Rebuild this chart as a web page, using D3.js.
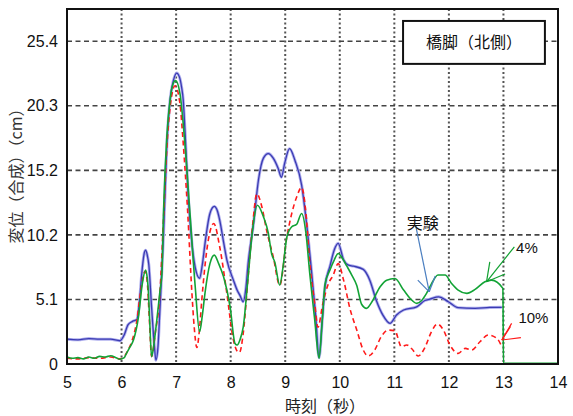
<!DOCTYPE html>
<html><head><meta charset="utf-8">
<script src="https://cdn.jsdelivr.net/npm/d3@7"></script>
<style>
html,body{margin:0;padding:0;background:#fff;}
svg{display:block;}
</style></head>
<body>
<svg id="chart" width="573" height="416"></svg>
<script>
// ---- data ----
const xTicks = [5,6,7,8,9,10,11,12,13,14];
const yTicks = [0,5.08,10.16,15.24,20.32,25.4];
const yTickLabels = ["0","5.1","10.2","15.2","20.3","25.4"];
const xTitle = "時刻（秒）";
const yTitle = "変位（合成）（cm）";
const boxTitle = "橋脚（北側）";

// 実験 (experiment) [time s, displacement cm]
const expData = [[5.0,1.95],[5.2,1.9],[5.4,2.0],[5.6,1.95],[5.8,1.95],[5.97,1.83],[6.05,2.3],[6.12,3.1],[6.2,3.35],[6.28,3.5],[6.33,5.0],[6.37,7.1],[6.42,8.8],[6.44,8.96],[6.47,8.6],[6.5,7.8],[6.55,4.5],[6.6,1.5],[6.63,0.3],[6.67,1.5],[6.70,4.0],[6.74,7.5],[6.77,10.3],[6.83,17.2],[6.89,20.8],[6.95,22.3],[7.01,22.9],[7.06,22.6],[7.10,21.8],[7.13,20.8],[7.16,18.6],[7.19,16.0],[7.22,13.4],[7.26,11.0],[7.29,9.5],[7.35,7.6],[7.43,6.75],[7.48,7.8],[7.53,9.5],[7.62,11.85],[7.70,12.4],[7.76,12.0],[7.80,11.3],[7.87,9.6],[7.93,8.2],[8.05,6.6],[8.12,5.8],[8.17,5.4],[8.23,4.9],[8.28,6.0],[8.32,7.9],[8.42,11.1],[8.51,14.5],[8.60,16.2],[8.69,16.56],[8.78,16.2],[8.87,15.4],[8.93,14.7],[8.99,15.8],[9.08,16.95],[9.18,16.0],[9.30,14.1],[9.39,11.1],[9.48,7.4],[9.56,3.7],[9.62,0.5],[9.68,3.5],[9.73,6.1],[9.82,7.7],[9.90,9.0],[9.97,9.5],[10.07,8.2],[10.15,7.8],[10.25,7.7],[10.43,7.45],[10.55,6.6],[10.67,5.0],[10.79,3.85],[10.92,3.2],[11.04,3.85],[11.17,4.25],[11.41,4.5],[11.56,5.0],[11.65,5.1],[11.81,5.29],[11.99,4.9],[12.17,4.43],[12.48,4.38],[12.75,4.45],[12.97,4.46]];

// 4% model
const g4Data = [[5.0,0.55],[5.1,0.45],[5.2,0.5],[5.3,0.4],[5.4,0.55],[5.5,0.45],[5.6,0.6],[5.7,0.55],[5.8,0.65],[5.9,0.5],[5.97,0.37],[6.05,0.5],[6.09,0.84],[6.15,1.3],[6.22,1.9],[6.31,3.7],[6.38,6.3],[6.44,7.39],[6.47,6.8],[6.49,5.8],[6.52,3.0],[6.55,0.57],[6.60,1.8],[6.64,3.2],[6.70,5.6],[6.74,7.1],[6.77,12.1],[6.83,17.9],[6.89,20.8],[6.94,22.0],[6.99,22.3],[7.07,21.3],[7.16,17.4],[7.25,12.1],[7.35,6.1],[7.43,2.54],[7.48,3.8],[7.53,5.6],[7.62,7.9],[7.70,8.57],[7.78,7.9],[7.87,6.86],[7.99,4.5],[8.08,1.62],[8.12,1.5],[8.17,1.9],[8.23,2.9],[8.32,6.86],[8.40,10.5],[8.49,12.5],[8.60,11.6],[8.69,10.3],[8.75,8.7],[8.81,8.0],[8.90,6.2],[8.96,7.65],[9.03,10.0],[9.12,10.8],[9.21,11.0],[9.30,11.85],[9.38,10.3],[9.45,7.1],[9.54,3.5],[9.62,0.45],[9.68,3.5],[9.73,6.3],[9.82,7.4],[9.90,8.2],[9.97,8.7],[10.05,8.3],[10.13,7.7],[10.22,7.0],[10.31,6.2],[10.40,4.7],[10.49,4.38],[10.59,4.9],[10.74,6.08],[10.86,6.6],[11.01,6.73],[11.17,5.82],[11.29,5.16],[11.41,4.77],[11.50,5.0],[11.59,5.56],[11.68,6.3],[11.80,7.0],[11.93,7.0],[12.05,6.34],[12.17,5.82],[12.33,5.56],[12.48,5.87],[12.66,6.47],[12.78,6.6],[12.99,5.95],[13.0,0.05],[14.0,0.05]];

// 10% model
const r10Data = [[5.0,0.45],[5.2,0.4],[5.4,0.5],[5.6,0.45],[5.8,0.55],[5.97,0.4],[6.05,0.6],[6.12,1.1],[6.19,1.8],[6.28,3.4],[6.36,6.0],[6.43,7.3],[6.47,6.5],[6.51,3.5],[6.55,0.6],[6.62,2.5],[6.70,5.4],[6.77,11.5],[6.83,17.0],[6.89,20.2],[6.98,21.9],[7.07,20.5],[7.13,17.4],[7.21,12.1],[7.29,5.56],[7.33,3.0],[7.38,1.3],[7.43,2.8],[7.47,5.0],[7.59,9.75],[7.69,11.06],[7.80,9.2],[7.93,5.56],[8.05,1.9],[8.12,1.0],[8.16,0.9],[8.23,2.4],[8.32,6.86],[8.40,10.8],[8.48,13.4],[8.57,12.4],[8.66,10.5],[8.78,8.44],[8.90,6.2],[9.03,10.0],[9.12,11.85],[9.21,13.15],[9.30,13.9],[9.38,11.85],[9.45,7.9],[9.54,4.77],[9.60,2.9],[9.69,4.77],[9.79,6.3],[9.88,7.0],[9.97,7.9],[10.07,6.6],[10.19,4.3],[10.31,2.7],[10.43,1.1],[10.52,0.63],[10.64,1.1],[10.76,2.15],[10.89,2.67],[11.01,2.62],[11.13,1.36],[11.23,1.5],[11.32,1.2],[11.44,0.63],[11.56,1.3],[11.68,2.54],[11.79,3.14],[11.90,2.67],[12.02,1.49],[12.17,0.84],[12.30,1.23],[12.42,1.1],[12.57,1.75],[12.72,2.28],[12.88,2.02],[12.97,1.36]];

// annotation labels: text, anchor [t, v]
const labelTexts = ["実験","4%","10%"];
const labelPos = [[11.52,11.1],[13.43,9.15],[13.55,3.65]];
// arrows: tail, tip, arm ends (data coords)
const arrowColors = ["#4a7ec0","#10a030","#ff1a1a"];
const arrowTail = [[11.39,10.93],[13.20,9.22],[13.15,3.2]];
const arrowTip  = [[11.64,5.68],[12.69,6.47],[12.97,1.89]];
const arrowArms = [[[11.43,6.6],[11.75,6.92]],[[12.75,8.04],[13.03,7.08]],[[13.32,2.07],[13.13,2.95]]];
// title box corners (data coords)
const boxCorners = [[11.16,27.0],[13.76,23.62]];

// ---- drawing ----
const svg = d3.select("#chart");
const m = {l:67, t:9, r:558, b:364};
const x = d3.scaleLinear().domain([5,14]).range([m.l, m.r]);
const y = d3.scaleLinear().domain([0,27.94]).range([m.b, m.t]);

const jp = "'Noto Sans CJK JP','Noto Sans',sans-serif";
const num = "'Liberation Sans',Arial,sans-serif";

// grid
svg.append("g").selectAll("line").data(xTicks.filter(d=>d>5&&d<14)).join("line")
  .attr("x1",d=>x(d)).attr("x2",d=>x(d)).attr("y1",m.t).attr("y2",m.b)
  .attr("stroke","#555").attr("stroke-width",2).attr("stroke-dasharray","2,2.5");
svg.append("g").selectAll("line").data(yTicks.filter(d=>d>0)).join("line")
  .attr("x1",m.l).attr("x2",m.r).attr("y1",d=>y(d)).attr("y2",d=>y(d))
  .attr("stroke","#444").attr("stroke-width",1.6).attr("stroke-dasharray","5,3.5");

// axes (text labels)
const xAxis = d3.axisBottom(x).tickValues(xTicks).tickSize(0).tickPadding(13).tickFormat(d3.format("d"));
const gx = svg.append("g").attr("transform",`translate(0,${m.b})`).call(xAxis);
gx.select(".domain").remove();
gx.selectAll("text").attr("font-family",num).attr("font-size",16).attr("fill","#111");

const yAxis = d3.axisLeft(y).tickValues(yTicks).tickSize(0).tickPadding(9).tickFormat((d,i)=>yTickLabels[i]);
const gy = svg.append("g").attr("transform",`translate(${m.l},0)`).call(yAxis);
gy.select(".domain").remove();
gy.selectAll("text").attr("font-family",num).attr("font-size",16).attr("fill","#111");

// lines
const line = d3.line().x(d=>x(d[0])).y(d=>y(d[1])).curve(d3.curveMonotoneX);
svg.append("path").attr("d",line(expData)).attr("fill","none")
  .attr("stroke","#b0b0ee").attr("stroke-width",3).attr("stroke-linejoin","round");
svg.append("path").attr("d",line(expData)).attr("fill","none")
  .attr("stroke","#3a3ab2").attr("stroke-width",1.3).attr("stroke-linejoin","round");
svg.append("path").attr("d",line(r10Data)).attr("fill","none")
  .attr("stroke","#ff1a1a").attr("stroke-width",1.6).attr("stroke-dasharray","5,3.5");
svg.append("path").attr("d",line(g4Data)).attr("fill","none")
  .attr("stroke","#12a335").attr("stroke-width",1.6).attr("stroke-linejoin","round");

// frame
svg.append("rect").attr("x",m.l).attr("y",m.t).attr("width",m.r-m.l).attr("height",m.b-m.t)
  .attr("fill","none").attr("stroke","#111").attr("stroke-width",2);

// title box
svg.append("rect")
  .attr("x",x(boxCorners[0][0])).attr("y",y(boxCorners[0][1]))
  .attr("width",x(boxCorners[1][0])-x(boxCorners[0][0]))
  .attr("height",y(boxCorners[1][1])-y(boxCorners[0][1]))
  .attr("fill","#fff").attr("stroke","#111").attr("stroke-width",2);
svg.append("text").attr("x",(x(boxCorners[0][0])+x(boxCorners[1][0]))/2)
  .attr("y",(y(boxCorners[0][1])+y(boxCorners[1][1]))/2).attr("dy","0.36em")
  .attr("text-anchor","middle").attr("font-family",jp).attr("font-size",16).attr("fill","#111")
  .text(boxTitle);

// arrows
arrowTail.forEach((tl,i)=>{
  const g = svg.append("g").attr("stroke",arrowColors[i]).attr("stroke-width",1.2);
  g.append("line").attr("x1",x(tl[0])).attr("y1",y(tl[1])).attr("x2",x(arrowTip[i][0])).attr("y2",y(arrowTip[i][1]));
  arrowArms[i].forEach(a=>{
    g.append("line").attr("x1",x(arrowTip[i][0])).attr("y1",y(arrowTip[i][1])).attr("x2",x(a[0])).attr("y2",y(a[1]));
  });
});

// labels
labelTexts.forEach((t,i)=>{
  svg.append("text").attr("x",x(labelPos[i][0])).attr("y",y(labelPos[i][1])).attr("dy","0.36em")
    .attr("text-anchor","middle")
    .attr("font-family", i===0 ? jp : num).attr("font-size", i===0 ? 16 : 15).attr("fill","#111")
    .text(t);
});

// axis titles
svg.append("text").attr("x",325).attr("y",412).attr("text-anchor","middle")
  .attr("font-family",jp).attr("font-size",16).attr("fill","#222").text(xTitle);
svg.append("text").attr("transform","translate(16,172) rotate(-90)").attr("dy","0.36em")
  .attr("text-anchor","middle").attr("font-family",jp).attr("font-size",16).attr("fill","#333").text(yTitle);
</script>
</body></html>
